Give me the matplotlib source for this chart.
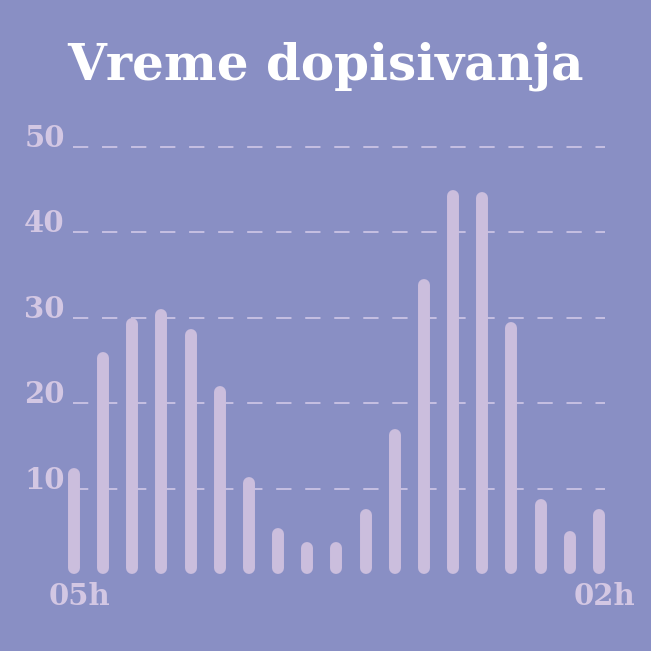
import numpy as np
import matplotlib
matplotlib.use('Agg')
import matplotlib.pyplot as plt
from matplotlib.transforms import ScaledTranslation

# messages per hour, from 05h to 02h
hours = np.arange(19)
counts = [12.4, 26, 30, 31, 28.7, 22, 11.3, 5.4, 3.8, 3.8,
          7.6, 17, 34.5, 45, 44.7, 29.5, 8.8, 5, 7.6]
yticks = [10, 20, 30, 40, 50]
xlabels = ['05h', '02h']

bg = '#898fc4'
bar_c = '#cbbedd'
txt_c = '#d3c7e3'

fig = plt.figure(figsize=(6.51, 6.51), dpi=100, facecolor=bg)
ax = fig.add_axes([73/651, 77/651, 532/651, 427/651])
ax.set_facecolor(bg)
ax.set_xlim(-0.034, 18.206)
ax.set_ylim(0, 50)

# grid
for y in yticks:
    ax.axhline(y, color='#d6cdea', lw=1.1, ls=(0, (10, 9)), zorder=1, clip_on=False)

# bars as thick lines with round caps
r = 0.7  # cap radius in data units (~6px)
c = np.array(counts)
lc = ax.vlines(hours, r, c - r, color=bar_c, lw=8.6, zorder=2, clip_on=False)
lc.set_capstyle('round')

ax.set_yticks(yticks)
ax.set_yticklabels([str(v) for v in yticks])
ax.set_xticks([0, 18])
ax.set_xticklabels(xlabels)
ax.tick_params(length=0, colors=txt_c, labelsize=21)
ax.tick_params(axis='y', pad=6)
ax.tick_params(axis='x', pad=6)
for lab in ax.get_yticklabels() + ax.get_xticklabels():
    lab.set_family('DejaVu Serif')
    lab.set_weight('bold')
    lab.set_color(txt_c)
for lab in ax.get_yticklabels():
    lab.set_verticalalignment('baseline')
for lab in ax.get_xticklabels():
    lab.set_transform(lab.get_transform() + ScaledTranslation(0.05, 0, fig.dpi_scale_trans))
for s in ax.spines.values():
    s.set_visible(False)

fig.text(0.5, 1 - 66/651, 'Vreme dopisivanja', ha='center', va='center',
         color='white', fontsize=36, fontweight='bold', family='DejaVu Serif')

plt.savefig('out.png', dpi=100, facecolor=bg)
